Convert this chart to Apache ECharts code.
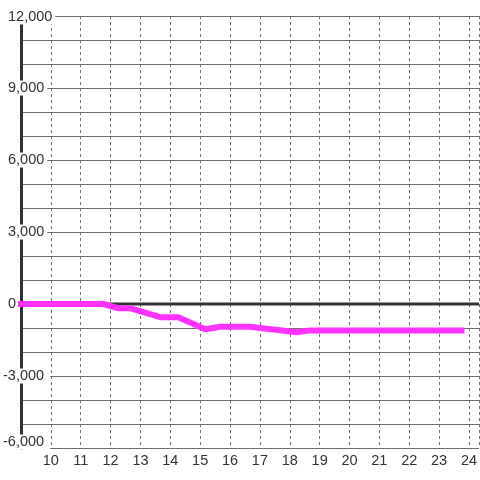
<!DOCTYPE html>
<html>
<head>
<meta charset="utf-8">
<script src="https://cdn.jsdelivr.net/npm/echarts@6/dist/echarts.min.js"></script>
<style>
  html, body { margin: 0; padding: 0; background: #fff; }
  #chart { width: 480px; height: 480px; }
</style>
</head>
<body>
<div id="chart"></div>
<script>
// hour of day -> value
const hours = [8.9, 11.77, 12.27, 12.67, 13.67, 14.27, 15.17, 15.67, 16.67, 18.23, 18.67, 23.85]
const values = [0, 0, -180, -180, -550, -550, -1050, -950, -950, -1180, -1100, -1100]
const zeroLine = [[9, 0], [24.34, 0]]
const yMin = -6000
const yMax = 12000

// labels sit a little inside at the top and bottom ends
const fmt = v => {
  const s = Math.abs(v).toLocaleString('en-US')
  const txt = v < 0 ? '{n|-' + s + '}' : '{p|' + s + '}'
  if (v === yMin) return txt + '\n{b| }'
  if (v === yMax) return '{t| }\n' + txt
  return txt
}

const chart = echarts.init(document.getElementById('chart'))
const gridColor = '#6e6e6e'
const labelFont = { fontSize: 14.5, color: '#333', fontFamily: 'Liberation Sans' }
const option = {
  animation: false,
  grid: { left: 20, right: 0, top: 16, bottom: 32 },
  xAxis: {
    type: 'value',
    min: 9,
    max: 24.34,
    interval: 1,
    axisLine: { show: false },
    axisTick: { show: false },
    axisLabel: Object.assign({
      showMinLabel: false,
      showMaxLabel: false,
      margin: 5,
      formatter: v => (Number.isInteger(v) ? String(v) : '')
    }, labelFont),
    splitLine: { show: true, lineStyle: { color: gridColor, width: 1, type: [3, 3] } }
  },
  yAxis: {
    type: 'value',
    min: yMin,
    max: yMax,
    interval: 3000,
    axisLine: { show: true, lineStyle: { color: '#333', width: 3 } },
    axisTick: { show: false },
    minorTick: { show: false, splitNumber: 3 },
    minorSplitLine: { show: true, lineStyle: { color: gridColor, width: 1 } },
    splitLine: { show: true, lineStyle: { color: gridColor, width: 1 } },
    axisLabel: {
      align: 'left',
      margin: 18,
      formatter: fmt,
      rich: {
        p: Object.assign({ backgroundColor: '#fff', padding: [0, 3, 0, 5], lineHeight: 15 }, labelFont),
        n: Object.assign({ backgroundColor: '#fff', padding: [0, 6, 0, 0], lineHeight: 15 }, labelFont),
        b: { fontSize: 10, lineHeight: 12 },
        t: { fontSize: 2, lineHeight: 2 }
      }
    }
  },
  series: [
    {
      type: 'line',
      data: zeroLine,
      symbol: 'none',
      silent: true,
      z: 2,
      lineStyle: { color: '#333', width: 3 }
    },
    {
      type: 'line',
      data: hours.map((h, i) => [h, values[i]]),
      symbol: 'none',
      z: 3,
      lineStyle: { color: '#ff33ff', width: 6, join: 'round' }
    }
  ]
}
chart.setOption(option)
</script>
</body>
</html>
